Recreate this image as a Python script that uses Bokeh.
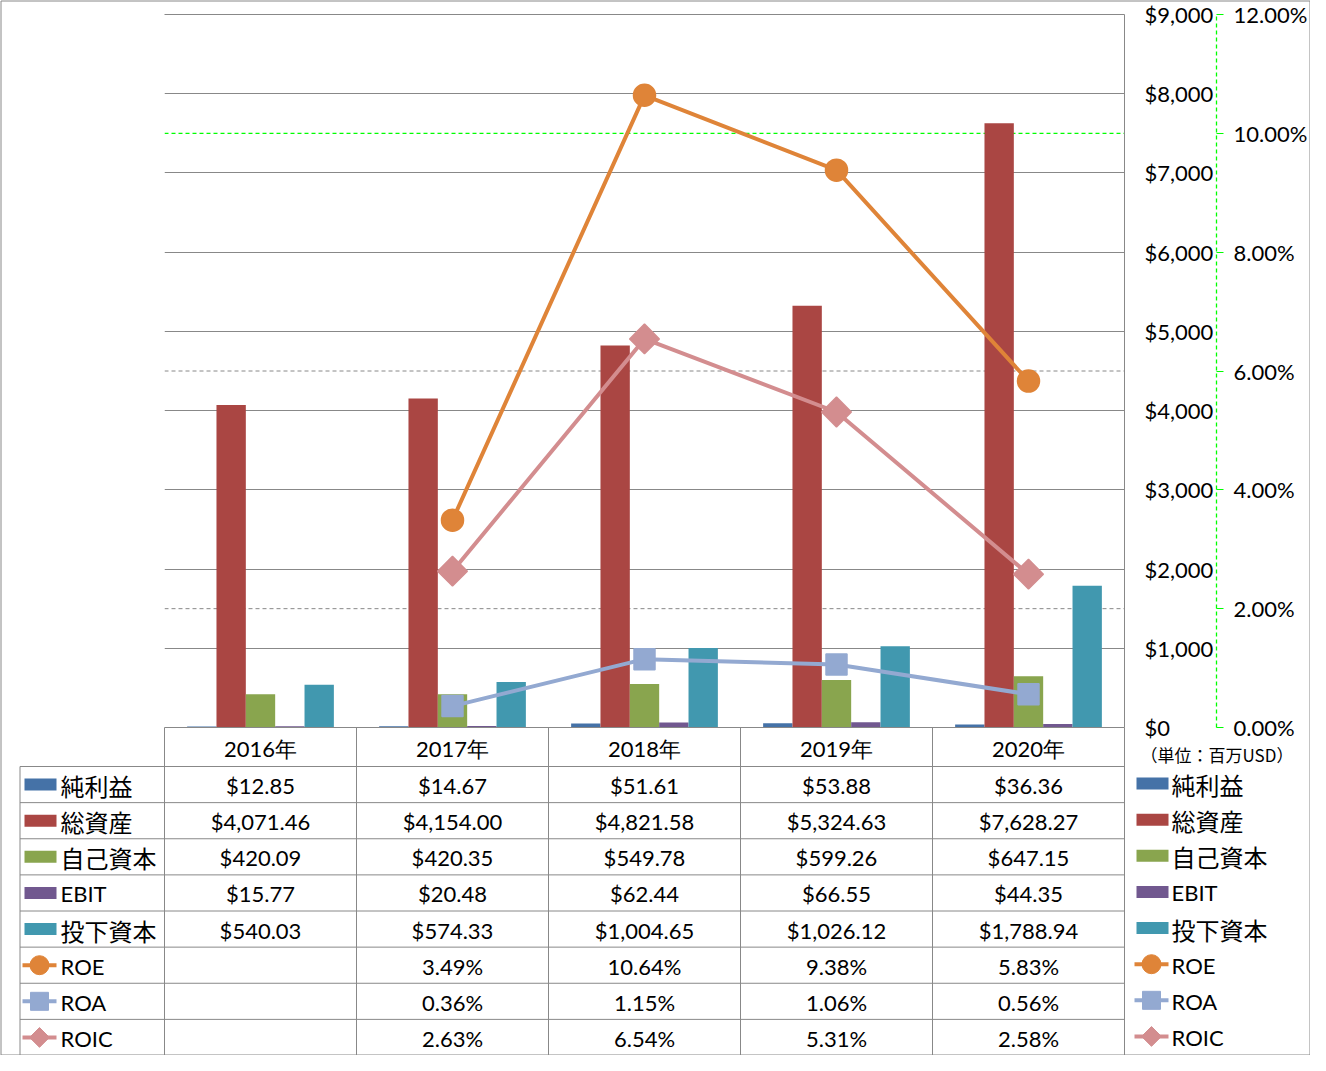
import numpy as np
from bokeh.plotting import figure
from bokeh.models import (Range1d, LinearAxis, FixedTicker, NumeralTickFormatter,
                          PrintfTickFormatter, ColumnDataSource)
from bokeh.core.properties import value
from bokeh.embed import file_html
from bokeh.resources import INLINE

# ---------------- data ----------------
years = ["2016年", "2017年", "2018年", "2019年", "2020年"]
bar_names = ["純利益", "総資産", "自己資本", "EBIT", "投下資本"]
net_income = [12.85, 14.67, 51.61, 53.88, 36.36]
total_assets = [4071.46, 4154.00, 4821.58, 5324.63, 7628.27]
equity = [420.09, 420.35, 549.78, 599.26, 647.15]
ebit = [15.77, 20.48, 62.44, 66.55, 44.35]
invested = [540.03, 574.33, 1004.65, 1026.12, 1788.94]
line_names = ["ROE", "ROA", "ROIC"]
roe = [None, 3.49, 10.64, 9.38, 5.83]
roa = [None, 0.36, 1.15, 1.06, 0.56]
roic = [None, 2.63, 6.54, 5.31, 2.58]
usd_ticks = [0, 1000, 2000, 3000, 4000, 5000, 6000, 7000, 8000, 9000]
pct_ticks = [0, 2, 4, 6, 8, 10, 12]
unit_label = "（単位：百万USD）"

bar_series = [net_income, total_assets, equity, ebit, invested]
line_series = [roe, roa, roic]

# ---------------- styles / layout ----------------
bar_colors = ["#4572A7", "#AA4643", "#89A54E", "#71588F", "#4198AF"]
line_colors = ["#DF8438", "#93A9D1", "#D38D8F"]
marker_kind = ["circle", "square", "square"]
marker_angle = [0.0, 0.0, np.pi / 4]
marker_size = [22, 21, 21]
legend_marker_size = [19, 18, 14]
GRID = "#888888"
GREEN = "#00FF00"
LATIN = "Lato"
CJK = "Noto Sans CJK JP"
FS = "22px"
FS_CJK = "24px"

LEFT = 164
FRAME_W = 960
TOP = 14
FRAME_H = 713
RIGHT = 186
HB = 328            # table height below plot area
CW = FRAME_W / 5.0
BW = 29.5 / 193.0
DPP = 9000.0 / FRAME_H
OV = "overlay"

p = figure(frame_width=FRAME_W, frame_height=FRAME_H,
           x_range=Range1d(-0.5, 4.5), y_range=Range1d(0, 9000),
           x_axis_location=None, y_axis_location="right",
           min_border_left=LEFT, min_border_right=RIGHT, min_border_top=TOP,
           min_border_bottom=HB, output_backend="svg", toolbar_location=None,
           outline_line_color=None, background_fill_color="white",
           border_fill_color="white")
p.extra_y_ranges = {"pct": Range1d(0, 12)}

p.xgrid.visible = False
p.ygrid.ticker = FixedTicker(ticks=usd_ticks)
p.ygrid.grid_line_color = GRID
p.ygrid.grid_line_width = 1

ax = p.yaxis[0]
ax.ticker = FixedTicker(ticks=usd_ticks)
ax.formatter = NumeralTickFormatter(format="$0,0")
ax.axis_line_color = GRID
ax.major_tick_line_color = None
ax.minor_tick_line_color = None
ax.major_tick_out = 0
ax.major_tick_in = 0
ax.major_label_standoff = 20
ax.major_label_text_font = LATIN
ax.major_label_text_font_size = FS
ax.major_label_text_color = "black"

ax2 = LinearAxis(y_range_name="pct", ticker=FixedTicker(ticks=pct_ticks),
                 formatter=PrintfTickFormatter(format="%.2f%%"),
                 axis_line_color=GREEN, axis_line_dash="4 3", axis_line_width=1.3,
                 major_tick_line_color=GREEN, major_tick_out=7, major_tick_in=0,
                 minor_tick_line_color=None, major_label_standoff=10,
                 major_label_text_font=LATIN, major_label_text_font_size=FS,
                 major_label_text_color="black")
p.add_layout(ax2, "right")

# secondary-axis gridlines that don't coincide with primary ones
sec = [t for t in pct_ticks if (t * 9000 / 12) % 1000 != 0]
sec_col = [GREEN if t == 10 else GRID for t in sec]
sec_w = [1.3 if t == 10 else 1 for t in sec]
p.segment(x0=-0.5, x1=4.5, y0=sec, y1=sec, y_range_name="pct",
          line_color=sec_col, line_width=sec_w, line_dash="4 3")
p.segment(x0=-0.5, x1=4.5, y0=usd_ticks[-1], y1=usd_ticks[-1], line_color=GRID,
          line_width=1, level=OV)

xs = np.arange(len(years))
for k, (vals, col) in enumerate(zip(bar_series, bar_colors)):
    p.vbar(x=xs + (k - 2) * BW, top=vals, width=BW, fill_color=col, line_color=None)

for vals, col, mk, ang, sz in zip(line_series, line_colors, marker_kind, marker_angle, marker_size):
    lx = [i for i, v in enumerate(vals) if v is not None]
    ly = [v for v in vals if v is not None]
    p.line(lx, ly, y_range_name="pct", line_color=col, line_width=4)
    p.scatter(lx, ly, y_range_name="pct", marker=mk, angle=ang, size=sz,
              fill_color=col, line_color=col, line_width=1.5)


# ---------------- data table (below the plot area, same scales) ----------------
def ul(px):   # position in left margin, given in reference pixels
    return -0.5 + (px - 165) / CW


def ur(px):   # position right of plot area, given in reference pixels
    return 4.5 + (px - 1130) / CW


def yv(px_below):
    return -px_below * DPP


HEAD = 39
ROW = (HB - HEAD) / 8.0
row_top = [HEAD + k * ROW for k in range(9)]
row_mid = [HEAD + (k + 0.5) * ROW for k in range(8)]

col_x = [-0.5 + i for i in range(6)]
p.segment(x0=col_x, x1=col_x, y0=0, y1=yv(HB), line_color=GRID, line_width=1, level=OV)
p.segment(x0=ul(20.5), x1=ul(20.5), y0=yv(HEAD), y1=yv(HB), line_color=GRID,
          line_width=1, level=OV)
hy = [yv(v) for v in row_top[:-1]]
p.segment(x0=ul(20.5), x1=4.5, y0=hy, y1=hy, line_color=GRID, line_width=1, level=OV)
p.segment(x0=-0.5, x1=4.5, y0=0, y1=0, line_color=GRID, line_width=1, level=OV)

# outer chart border
x_left = -0.5 - (LEFT - 0.5) / CW
x_right = 4.5 + (RIGHT - 0.5) / CW
y_top = 9000 + (TOP - 0.5) * DPP
y_bot = yv(HB - 0.5)
p.segment(x0=[x_left, x_right, x_left, x_left], x1=[x_left, x_right, x_right, x_right],
          y0=[y_top, y_top, y_top, y_bot], y1=[y_bot, y_bot, y_top, y_bot],
          line_color=GRID, line_width=1, level=OV)

p.text(x=list(xs), y=[yv(HEAD / 2 + 1)] * 5, text=years, text_align="center",
       text_baseline="middle", text_font=value(LATIN), text_font_size=FS,
       text_color="black", level=OV)

tx, ty, tt = [], [], []
for k, vals in enumerate(bar_series):
    for i, v in enumerate(vals):
        tx.append(i); ty.append(yv(row_mid[k] + 1)); tt.append(f"${v:,.2f}")
for j, vals in enumerate(line_series):
    for i, v in enumerate(vals):
        if v is not None:
            tx.append(i); ty.append(yv(row_mid[5 + j] + 1)); tt.append(f"{v:.2f}%")
p.text(x=tx, y=ty, text=tt, text_align="center", text_baseline="middle",
       text_font=value(LATIN), text_font_size=FS, text_color="black", level=OV)

names = bar_names + line_names
fonts = [LATIN if n.isascii() else CJK for n in names]
sizes = [FS if n.isascii() else FS_CJK for n in names]
for (conv, sw0, sw1, lab_x, mk_x, dy) in [(ul, 25, 57, 61, 40, 0),
                                          (ur, 1142, 1174, 1177, 1157, -1)]:
    p.quad(left=[conv(sw0)] * 5, right=[conv(sw1)] * 5,
           top=[yv(row_mid[k] + dy - 6) for k in range(5)],
           bottom=[yv(row_mid[k] + dy + 6) for k in range(5)],
           fill_color=bar_colors, line_color=None, level=OV)
    for j in range(3):
        yy = yv(row_mid[5 + j] + dy)
        p.segment(x0=conv(sw0 - 2), x1=conv(sw1), y0=yy, y1=yy, line_color=line_colors[j],
                  line_width=4, level=OV)
        ms = legend_marker_size[j]
        if marker_kind[j] == "circle":
            p.ellipse(x=[conv(mk_x)], y=[yy], width=ms, height=ms, width_units="screen",
                      height_units="screen", fill_color=line_colors[j],
                      line_color=line_colors[j], level=OV)
        else:
            p.rect(x=[conv(mk_x)], y=[yy], width=ms, height=ms, width_units="screen",
                   height_units="screen", angle=marker_angle[j],
                   fill_color=line_colors[j], line_color=line_colors[j], level=OV)
    src = ColumnDataSource(dict(x=[conv(lab_x)] * 8, y=[yv(m + dy + 1) for m in row_mid],
                                t=names, f=fonts, s=sizes))
    p.text(x="x", y="y", text="t", text_font="f", text_font_size="s", source=src,
           text_align="left", text_baseline="middle", text_color="black", level=OV)

p.text(x=[ur(1146)], y=[yv(27)], text=[unit_label], text_align="left",
       text_baseline="middle", text_font=value(CJK), text_font_size="17px",
       text_color="black", level=OV)

open("out.html", "w").write(file_html(p, INLINE))
